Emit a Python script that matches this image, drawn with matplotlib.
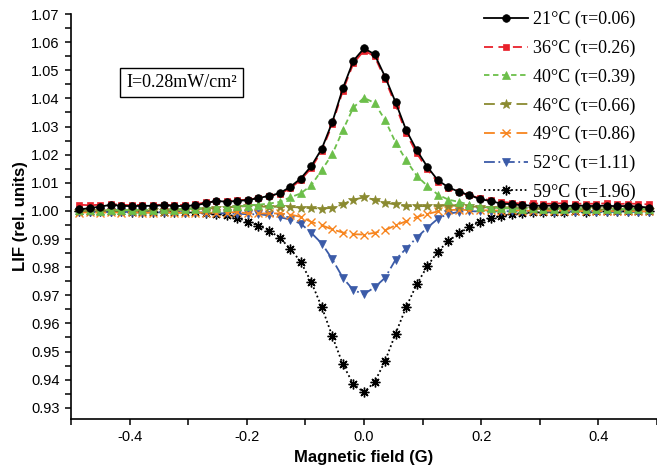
import numpy as np
import matplotlib
matplotlib.use("Agg")
import matplotlib.pyplot as plt
from matplotlib.ticker import MultipleLocator

# Magnetic field grid (G)
field = np.round(np.arange(-27, 28) * 0.018, 4)

lif_21 = [1.0005, 1.0010, 1.0015, 1.0022, 1.0018, 1.0017, 1.0018, 1.0018, 1.0020, 1.0018,
          1.0017, 1.0020, 1.0027, 1.0036, 1.0032, 1.0036, 1.0038, 1.0046, 1.0053, 1.0063,
          1.0085, 1.0115, 1.0159, 1.0221, 1.0316, 1.0436, 1.0534, 1.0578, 1.0557, 1.0477,
          1.0386, 1.0287, 1.0216, 1.0157, 1.0109, 1.0084, 1.0068, 1.0056, 1.0042, 1.0035,
          1.0026, 1.0024, 1.0020, 1.0019, 1.0018, 1.0019, 1.0017, 1.0019, 1.0018, 1.0017,
          1.0019, 1.0016, 1.0018, 1.0015, 1.0012]

lif_36 = [1.0022, 1.0020, 1.0022, 1.0024, 1.0022, 1.0020, 1.0022, 1.0021, 1.0022, 1.0020,
          1.0022, 1.0024, 1.0030, 1.0034, 1.0035, 1.0038, 1.0040, 1.0046, 1.0052, 1.0060,
          1.0080, 1.0110, 1.0152, 1.0214, 1.0308, 1.0428, 1.0525, 1.0570, 1.0550, 1.0468,
          1.0375, 1.0276, 1.0205, 1.0148, 1.0102, 1.0080, 1.0066, 1.0056, 1.0045, 1.0038,
          1.0032, 1.0029, 1.0026, 1.0027, 1.0025, 1.0026, 1.0027, 1.0025, 1.0026, 1.0025,
          1.0027, 1.0024, 1.0026, 1.0025, 1.0023]

lif_40 = [1.0002, 1.0003, 1.0001, 1.0004, 1.0002, 1.0003, 1.0004, 1.0003, 1.0005, 1.0004,
          1.0006, 1.0008, 1.0010, 1.0012, 1.0014, 1.0016, 1.0019, 1.0022, 1.0026, 1.0032,
          1.0048, 1.0062, 1.0091, 1.0145, 1.0202, 1.0287, 1.0368, 1.0402, 1.0384, 1.0323,
          1.0243, 1.0180, 1.0125, 1.0089, 1.0058, 1.0040, 1.0032, 1.0022, 1.0015, 1.0012,
          1.0010, 1.0009, 1.0008, 1.0009, 1.0008, 1.0007, 1.0008, 1.0009, 1.0008, 1.0007,
          1.0008, 1.0007, 1.0006, 1.0007, 1.0006]

lif_46 = [0.9999, 1.0000, 0.9999, 1.0001, 1.0000, 1.0001, 1.0000, 1.0002, 1.0001, 1.0003,
          1.0004, 1.0006, 1.0008, 1.0010, 1.0012, 1.0015, 1.0017, 1.0016, 1.0014, 1.0015,
          1.0014, 1.0012, 1.0010, 1.0008, 1.0011, 1.0024, 1.0040, 1.0048, 1.0040, 1.0029,
          1.0023, 1.0017, 1.0017, 1.0017, 1.0018, 1.0019, 1.0018, 1.0016, 1.0014, 1.0012,
          1.0010, 1.0009, 1.0008, 1.0007, 1.0007, 1.0006, 1.0006, 1.0005, 1.0006, 1.0005,
          1.0005, 1.0004, 1.0005, 1.0004, 1.0004]

lif_49 = [0.9994, 0.9995, 0.9993, 0.9995, 0.9994, 0.9995, 0.9994, 0.9993, 0.9995, 0.9994,
          0.9993, 0.9994, 0.9993, 0.9994, 0.9994, 0.9996, 0.9991, 0.9991, 0.9991, 0.9991,
          0.9987, 0.9979, 0.9961, 0.9949, 0.9934, 0.9923, 0.9917, 0.9916, 0.9922, 0.9931,
          0.9949, 0.9963, 0.9978, 0.9989, 0.9998, 1.0003, 1.0004, 1.0003, 1.0002, 1.0002,
          1.0001, 1.0002, 1.0001, 1.0000, 1.0001, 1.0000, 1.0001, 1.0000, 0.9999, 1.0000,
          0.9999, 1.0000, 0.9999, 0.9999, 0.9998]

lif_52 = [0.9997, 0.9996, 0.9997, 0.9995, 0.9996, 0.9997, 0.9995, 0.9996, 0.9995, 0.9996,
          0.9994, 0.9995, 0.9993, 0.9992, 0.9991, 0.9990, 0.9988, 0.9988, 0.9984, 0.9978,
          0.9969, 0.9955, 0.9922, 0.9884, 0.9828, 0.9762, 0.9718, 0.9704, 0.9728, 0.9762,
          0.9827, 0.9866, 0.9905, 0.9940, 0.9972, 0.9990, 0.9996, 0.9999, 0.9998, 0.9999,
          0.9998, 0.9999, 0.9998, 0.9999, 0.9998, 0.9997, 0.9998, 0.9997, 0.9998, 0.9997,
          0.9996, 0.9997, 0.9996, 0.9997, 0.9996]

lif_59 = [0.9999, 0.9998, 0.9999, 0.9998, 0.9998, 0.9997, 0.9997, 0.9996, 0.9996, 0.9996,
          0.9995, 0.9995, 0.9993, 0.9990, 0.9985, 0.9975, 0.9961, 0.9948, 0.9930, 0.9905,
          0.9866, 0.9819, 0.9747, 0.9658, 0.9554, 0.9454, 0.9383, 0.9355, 0.9391, 0.9466,
          0.9564, 0.9658, 0.9739, 0.9803, 0.9855, 0.9893, 0.9920, 0.9943, 0.9961, 0.9973,
          0.9981, 0.9989, 0.9993, 0.9995, 0.9996, 0.9997, 0.9997, 0.9998, 0.9997, 0.9998,
          0.9998, 0.9999, 0.9998, 0.9999, 0.9999]

labels = ["21°C (τ=0.06)", "36°C (τ=0.26)", "40°C (τ=0.39)", "46°C (τ=0.66)",
          "49°C (τ=0.86)", "52°C (τ=1.11)", "59°C (τ=1.96)"]
series = [lif_21, lif_36, lif_40, lif_46, lif_49, lif_52, lif_59]

colors = ["#000000", "#e8212b", "#6cbf4a", "#8a8a30", "#f7851f", "#3b5ba8", "#000000"]
markers = ["o", "s", "^", "*", "x", "v", (8, 2, 0)]
msizes = [5.5, 4.8, 6, 7, 5.5, 6, 7]
lstyles = ["-", (0, (5, 3)), (0, (3, 2)), (0, (6, 3)), (0, (6, 3)), (0, (6, 2, 1, 2)), (0, (1, 1.5))]
zorders = [9, 8, 7, 6, 5, 4, 3]

fig = plt.figure(figsize=(6.57, 4.68), dpi=100)
ax = fig.add_axes([0.108, 0.1047, 0.892, 0.8653])

for y, lab, c, m, ms, ls, z in zip(series, labels, colors, markers, msizes, lstyles, zorders):
    ax.plot(field, y, color=c, linestyle=ls, linewidth=1.3, marker=m, markersize=ms,
            markerfacecolor=c, markeredgecolor=c,
            markeredgewidth=1.0 if m in ("x", (8, 2, 0)) else 0.5,
            label=lab, zorder=z)

ax.set_xlim(-0.5, 0.5)
ax.set_ylim(0.926, 1.07)
ax.xaxis.set_major_locator(MultipleLocator(0.2))
ax.xaxis.set_minor_locator(MultipleLocator(0.1))
ax.yaxis.set_major_locator(MultipleLocator(0.01))
ax.yaxis.set_minor_locator(MultipleLocator(0.005))
ax.xaxis.set_major_formatter(plt.FuncFormatter(lambda v, p: f"{v:.1f}"))
ax.yaxis.set_major_formatter(plt.FuncFormatter(lambda v, p: f"{v:.2f}"))

for s in ["top", "right"]:
    ax.spines[s].set_visible(False)
for s in ["left", "bottom"]:
    ax.spines[s].set_linewidth(1.2)

ax.tick_params(which="both", direction="out", width=1.1, labelsize=10.5)
ax.tick_params(which="major", length=4.5)
ax.tick_params(which="minor", length=4.5)
for lbl in ax.get_xticklabels() + ax.get_yticklabels():
    lbl.set_fontfamily("Liberation Sans")

ax.set_xlabel("Magnetic field (G)", fontsize=12, fontweight="bold",
              fontfamily="Liberation Sans", labelpad=4)
ax.set_ylabel("LIF (rel. units)", fontsize=12, fontweight="bold",
              fontfamily="Liberation Sans", labelpad=2)

leg = ax.legend(loc="upper right", bbox_to_anchor=(0.976, 1.025), frameon=False,
                prop={"family": "Liberation Serif", "size": 13},
                handlelength=2.4, handletextpad=0.3, labelspacing=0.63,
                borderaxespad=0.0)

ax.text(0.189, 0.831, "I=0.28mW/cm²", transform=ax.transAxes, ha="center", va="center",
        fontsize=13, fontfamily="Liberation Serif",
        bbox=dict(boxstyle="square,pad=0.35", facecolor="white", edgecolor="black", linewidth=1.0))

fig.savefig("out.png", dpi=100)
